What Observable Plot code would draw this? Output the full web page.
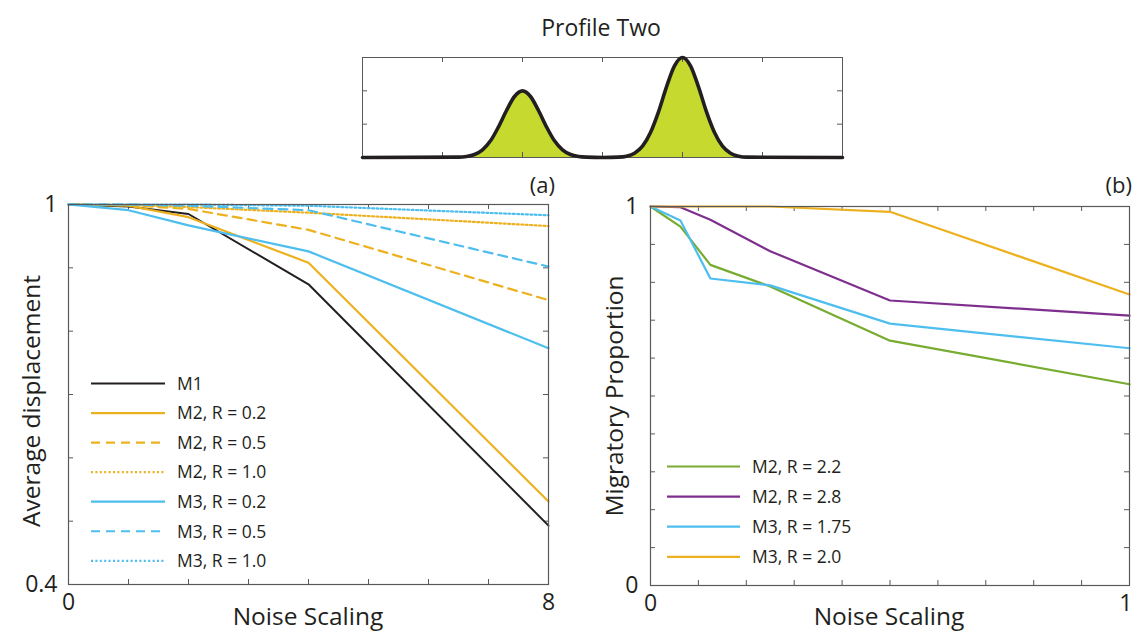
<!DOCTYPE html>
<html><head><meta charset="utf-8">
<script src="https://cdn.jsdelivr.net/npm/d3@7"></script>
<script src="https://cdn.jsdelivr.net/npm/@observablehq/plot@0.6"></script>
<style>
body{margin:0;background:#fff;}
#root{position:relative;width:1133px;height:631px;overflow:hidden;font-family:"Open Sans",sans-serif;color:#231f20;}
#root > svg, #root > div{position:absolute;}
</style></head><body><div id="root"></div>
<script>
// ---------- data ----------
// Profile Two (top panel): positions and heights
const profileX = [0, 1.2, 1.3, 1.4, 1.5, 1.6, 1.7, 1.8, 1.9, 2.0, 2.1, 2.2, 2.3, 2.4, 2.5, 2.6, 2.7, 2.8, 3.0,
                  3.2, 3.3, 3.4, 3.5, 3.6, 3.7, 3.8, 3.9, 4.0, 4.1, 4.2, 4.3, 4.4, 4.5, 4.6, 4.7, 4.8, 6];
const profileY = [0, 0.01, 0.03, 0.09, 0.23, 0.5, 0.92, 1.41, 1.83, 2.0, 1.83, 1.41, 0.92, 0.5, 0.23, 0.09, 0.03, 0.01, 0,
                  0.01, 0.04, 0.13, 0.34, 0.75, 1.37, 2.12, 2.75, 3.0, 2.75, 2.12, 1.37, 0.75, 0.34, 0.13, 0.04, 0.01, 0];
const profileXTicks = [1, 2, 3, 4, 5];
const profileYTicks = [1, 2];

// Panel (a)
const noiseA = [0, 1, 2, 4, 8];
const namesA = ["M1", "M2, R = 0.2", "M2, R = 0.5", "M2, R = 1.0", "M3, R = 0.2", "M3, R = 0.5", "M3, R = 1.0"];
const m1     = [1, 0.997, 0.985, 0.874, 0.493];
const m2r02  = [1, 0.998, 0.980, 0.908, 0.531];
const m2r05  = [1, 0.999, 0.993, 0.960, 0.849];
const m2r10  = [1, 0.999, 0.996, 0.987, 0.966];
const m3r02  = [1, 0.991, 0.967, 0.926, 0.773];
const m3r05  = [1, 1.000, 0.998, 0.991, 0.902];
const m3r10  = [1, 1.000, 1.000, 0.998, 0.983];
const valuesA = [m1, m2r02, m2r05, m2r10, m3r02, m3r05, m3r10];
const xTicksA = [0, 1, 2, 3, 4, 5, 6, 7, 8];
const yTicksA = [0.4, 0.5, 0.6, 0.7, 0.8, 0.9, 1];
const xLabelsA = [0, 8];
const yLabelsA = [0.4, 1];

// Panel (b)
const noiseB = [0, 0.0625, 0.125, 0.25, 0.5, 1];
const namesB = ["M2, R = 2.2", "M2, R = 2.8", "M3, R = 1.75", "M3, R = 2.0"];
const m2r22  = [1, 0.947, 0.846, 0.789, 0.646, 0.531];
const m2r28  = [1, 0.998, 0.965, 0.882, 0.752, 0.712];
const m3r175 = [1, 0.963, 0.810, 0.792, 0.691, 0.626];
const m3r20  = [1, 1.000, 1.000, 1.000, 0.986, 0.768];
const valuesB = [m2r22, m2r28, m3r175, m3r20];
const xTicksB = [0, 0.1, 0.2, 0.3, 0.4, 0.5, 0.6, 0.7, 0.8, 0.9, 1];
const yTicksB = [0, 0.1, 0.2, 0.3, 0.4, 0.5, 0.6, 0.7, 0.8, 0.9, 1];
const xLabelsB = [0, 1];
const yLabelsB = [0, 1];

// ---------- styles ----------
const BLACK = "#231f20", ORANGE = "#EDB120", BLUE = "#4DBEEE", GREEN = "#77AC30", PURPLE = "#7E2F8E";
const AXIS = "#58595b";
const FONT = "'Open Sans', sans-serif";
const fmt = d => String(d);
const stylesA = [
  {stroke: BLACK, dash: null, w: 2},
  {stroke: ORANGE, dash: null, w: 2.2},
  {stroke: ORANGE, dash: "9,6", w: 2.2},
  {stroke: ORANGE, dash: "2,2.4", w: 2.2},
  {stroke: BLUE, dash: null, w: 2.2},
  {stroke: BLUE, dash: "9,6", w: 2.2},
  {stroke: BLUE, dash: "2,2.4", w: 2.2}
];
const stylesB = [
  {stroke: GREEN, dash: null, w: 2.2},
  {stroke: PURPLE, dash: null, w: 2.2},
  {stroke: BLUE, dash: null, w: 2.2},
  {stroke: ORANGE, dash: null, w: 2.2}
];

const root = document.getElementById("root");

function boxTicks(xt, yt, fw, fh, len) {
  return [
    Plot.tickX(xt, {x: d => d, insetTop: fh - len, stroke: AXIS, strokeWidth: 1}),
    Plot.tickX(xt, {x: d => d, insetBottom: fh - len, stroke: AXIS, strokeWidth: 1}),
    Plot.tickY(yt, {y: d => d, insetRight: fw - len, stroke: AXIS, strokeWidth: 1}),
    Plot.tickY(yt, {y: d => d, insetLeft: fw - len, stroke: AXIS, strokeWidth: 1})
  ];
}

function place(el, left, top) {
  el.style.left = left + "px";
  el.style.top = top + "px";
  root.appendChild(el);
}

// ---------- profile panel ----------
const profile = profileX.map((x, i) => ({x, y: profileY[i]}));
const pW = 520, pH = 120, pML = 22, pMR = 18, pMT = 12, pMB = 8;
const plotP = Plot.plot({
  width: pW, height: pH, marginLeft: pML, marginRight: pMR, marginTop: pMT, marginBottom: pMB,
  x: {domain: [0, 6], axis: null}, y: {domain: [0, 3], axis: null},
  style: {fontFamily: FONT, background: "transparent", overflow: "visible"},
  marks: [
    Plot.areaY(profile, {x: "x", y: "y", fill: "#c6d92e", curve: "monotone-x"}),
    ...boxTicks(profileXTicks, profileYTicks, pW - pML - pMR, pH - pMT - pMB, 5),
    Plot.frame({stroke: AXIS, strokeWidth: 1}),
    Plot.lineY(profile, {x: "x", y: "y", stroke: BLACK, strokeWidth: 3.6, curve: "monotone-x"})
  ]
});
place(plotP, 340, 45);

// ---------- panel (a) ----------
const aW = 570, aH = 471, aML = 68, aMR = 22, aMT = 44, aMB = 47;
const linesA = valuesA.map((vals, k) =>
  Plot.line(noiseA.map((x, i) => ({x, y: vals[i], s: namesA[k]})), {
    x: "x", y: "y", stroke: stylesA[k].stroke, strokeWidth: stylesA[k].w,
    strokeDasharray: stylesA[k].dash, strokeLinejoin: "miter"
  }));
const plotA = Plot.plot({
  width: aW, height: aH, marginLeft: aML, marginRight: aMR, marginTop: aMT, marginBottom: aMB,
  x: {domain: [0, 8]}, y: {domain: [0.4, 1]},
  style: {fontFamily: FONT, background: "transparent", overflow: "visible", color: BLACK},
  marks: [
    ...boxTicks(xTicksA, yTicksA, aW - aML - aMR, aH - aMT - aMB, 5),
    Plot.axisX(xLabelsA, {tickSize: 0, tickPadding: 9, fontSize: 23, label: null, tickFormat: fmt}),
    Plot.axisY(yLabelsA, {tickSize: 0, tickPadding: 11, fontSize: 23, label: null, tickFormat: fmt}),
    ...linesA,
    Plot.frame({stroke: AXIS, strokeWidth: 1.2})
  ]
});
place(plotA, 0, 160);

// ---------- panel (b) ----------
const bW = 563, bH = 471, bML = 80, bMR = 4, bMT = 46, bMB = 46;
const linesB = valuesB.map((vals, k) =>
  Plot.line(noiseB.map((x, i) => ({x, y: vals[i], s: namesB[k]})), {
    x: "x", y: "y", stroke: stylesB[k].stroke, strokeWidth: stylesB[k].w, strokeLinejoin: "miter"
  }));
const plotB = Plot.plot({
  width: bW, height: bH, marginLeft: bML, marginRight: bMR, marginTop: bMT, marginBottom: bMB,
  x: {domain: [0, 1]}, y: {domain: [0, 1]},
  style: {fontFamily: FONT, background: "transparent", overflow: "visible", color: BLACK},
  marks: [
    ...boxTicks(xTicksB, yTicksB, bW - bML - bMR, bH - bMT - bMB, 5),
    Plot.axisX(xLabelsB.slice(0, 1), {tickSize: 0, tickPadding: 9, fontSize: 23, label: null, tickFormat: fmt}),
    Plot.axisX(xLabelsB.slice(1), {tickSize: 0, tickPadding: 9, fontSize: 23, label: null, tickFormat: fmt, textAnchor: "end", dx: 3}),
    Plot.axisY(yLabelsB, {tickSize: 0, tickPadding: 12, fontSize: 23, label: null, tickFormat: fmt}),
    ...linesB,
    Plot.frame({stroke: AXIS, strokeWidth: 1.2})
  ]
});
place(plotB, 570, 160);

// ---------- titles, axis labels, legends ----------
const ov = d3.create("svg").attr("width", 1133).attr("height", 631)
  .style("font-family", FONT).style("fill", BLACK).style("pointer-events", "none");
ov.append("text").attr("x", 601).attr("y", 36).attr("text-anchor", "middle").attr("font-size", 23).text("Profile Two");
ov.append("text").attr("x", 555).attr("y", 193).attr("text-anchor", "end").attr("font-size", 22).text("(a)");
ov.append("text").attr("x", 1132).attr("y", 193).attr("text-anchor", "end").attr("font-size", 22).text("(b)");
ov.append("text").attr("x", 308).attr("y", 625).attr("text-anchor", "middle").attr("font-size", 24.5).text("Noise Scaling");
ov.append("text").attr("x", 889).attr("y", 625).attr("text-anchor", "middle").attr("font-size", 24.5).text("Noise Scaling");
ov.append("text").attr("transform", "translate(40,401) rotate(-90)").attr("text-anchor", "middle").attr("font-size", 24.5).text("Average displacement");
ov.append("text").attr("transform", "translate(623,396) rotate(-90)").attr("text-anchor", "middle").attr("font-size", 24.5).text("Migratory Proportion");

function legend(names, styles, x0, x1, tx, y0, dy) {
  names.forEach((n, i) => {
    const y = y0 + i * dy;
    ov.append("line").attr("x1", x0).attr("x2", x1).attr("y1", y).attr("y2", y)
      .attr("stroke", styles[i].stroke).attr("stroke-width", styles[i].w)
      .attr("stroke-dasharray", styles[i].dash);
    ov.append("text").attr("x", tx).attr("y", y).attr("dy", "0.36em").attr("font-size", 17.5).text(n);
  });
}
legend(namesA, stylesA, 91, 165, 177, 383.5, 29.55);
legend(namesB, stylesB, 667, 740, 752, 466.5, 30.1);
place(ov.node(), 0, 0);
</script></body></html>
